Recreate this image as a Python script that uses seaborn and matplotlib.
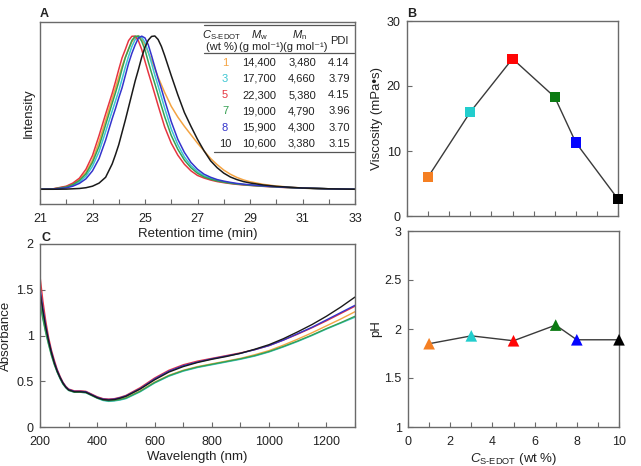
"""
Recreation of a four-panel figure: GPC traces, viscosity, UV-vis spectra and pH
of polymer solutions prepared at different S-EDOT contents.
"""

import matplotlib

matplotlib.use("Agg")

import matplotlib.pyplot as plt
import pandas as pd
import seaborn as sns
from matplotlib.ticker import MultipleLocator


# ---- composition and table values -------------------------------------------
CONC = [1, 3, 5, 7, 8, 10]
CONC_LABELS = ["1", "3", "5", "7", "8", "10"]
MW = ["14,400", "17,700", "22,300", "19,000", "15,900", "10,600"]
MN = ["3,480", "4,660", "5,380", "4,790", "4,300", "3,380"]
PDI = ["4.14", "3.79", "4.15", "3.96", "3.70", "3.15"]

# ---- panel B / D: viscosity and pH ------------------------------------------
VISCOSITY = [6.0, 16.0, 24.2, 18.3, 11.3, 2.6]
PH = [1.85, 1.93, 1.88, 2.04, 1.89, 1.89]

# ---- panel A: GPC traces (normalised intensity) ------------------------------
RET_TIME = [21, 21.5, 22, 22.25, 22.5, 22.75, 23, 23.25, 23.5, 23.75,
            23.875, 24, 24.125, 24.25, 24.375, 24.5, 24.625, 24.75, 24.875, 25,
            25.125, 25.25, 25.375, 25.5, 25.625, 25.75,
            26, 26.25, 26.5, 26.75, 27, 27.25, 27.5, 27.75, 28, 28.25, 28.5,
            28.75, 29, 29.5, 30, 30.5, 31, 32, 33]
GPC_1 = [0.0, 0.002, 0.017, 0.035, 0.062, 0.11, 0.19, 0.31, 0.45, 0.59,
         0.66, 0.73, 0.80, 0.86, 0.915, 0.96, 0.99, 1.0, 0.98, 0.94,
         0.89, 0.84, 0.785, 0.73, 0.68, 0.63,
         0.54, 0.47, 0.41, 0.355, 0.30, 0.25, 0.20, 0.16, 0.125, 0.098, 0.077,
         0.061, 0.049, 0.032, 0.021, 0.014, 0.008, 0.003, 0.0]
GPC_3 = [0.0, 0.001, 0.012, 0.025, 0.047, 0.085, 0.15, 0.245, 0.375, 0.51,
         0.575, 0.64, 0.717, 0.795, 0.866, 0.93, 0.975, 0.997, 0.99, 0.955,
         0.893, 0.82, 0.743, 0.673, 0.60, 0.528,
         0.392, 0.29, 0.21, 0.155, 0.115, 0.087, 0.07, 0.058, 0.049, 0.041,
         0.035, 0.031, 0.027, 0.021, 0.016, 0.011, 0.008, 0.003, 0.0]
GPC_5 = [0.0, 0.003, 0.02, 0.04, 0.072, 0.13, 0.22, 0.35, 0.49, 0.625,
         0.70, 0.78, 0.855, 0.91, 0.968, 0.996, 0.997, 0.966, 0.91, 0.833,
         0.76, 0.69, 0.618, 0.545, 0.475, 0.405,
         0.30, 0.222, 0.163, 0.12, 0.09, 0.073, 0.06, 0.05, 0.043, 0.037,
         0.032, 0.028, 0.025, 0.019, 0.014, 0.01, 0.007, 0.003, 0.0]
GPC_7 = [0.0, 0.002, 0.015, 0.03, 0.057, 0.10, 0.175, 0.28, 0.42, 0.56,
         0.628, 0.70, 0.783, 0.857, 0.912, 0.969, 0.996, 0.996, 0.964, 0.907,
         0.83, 0.757, 0.687, 0.615, 0.542, 0.472,
         0.35, 0.26, 0.19, 0.14, 0.104, 0.08, 0.065, 0.054, 0.046, 0.039,
         0.034, 0.03, 0.026, 0.02, 0.015, 0.011, 0.007, 0.003, 0.0]
GPC_8 = [0.0, 0.001, 0.009, 0.02, 0.038, 0.068, 0.12, 0.20, 0.32, 0.46,
         0.525, 0.595, 0.66, 0.74, 0.82, 0.885, 0.94, 0.985, 0.997, 0.985,
         0.94, 0.87, 0.795, 0.72, 0.653, 0.58,
         0.44, 0.325, 0.24, 0.175, 0.13, 0.098, 0.078, 0.063, 0.053, 0.045,
         0.038, 0.033, 0.029, 0.022, 0.016, 0.012, 0.008, 0.003, 0.0]
GPC_10 = [0.0, 0.0, 0.001, 0.003, 0.005, 0.01, 0.02, 0.04, 0.078, 0.165,
          0.225, 0.29, 0.37, 0.45, 0.535, 0.62, 0.705, 0.78, 0.86, 0.925,
          0.971, 0.995, 0.998, 0.975, 0.93, 0.87,
          0.74, 0.615, 0.50, 0.41, 0.325, 0.25, 0.185, 0.14, 0.105, 0.08,
          0.063, 0.05, 0.041, 0.028, 0.019, 0.013, 0.008, 0.003, 0.0]

# ---- panel C: UV-vis absorbance ------------------------------------------------
WAVELENGTH = [200, 210, 220, 230, 240, 250, 260, 270, 280, 290, 300, 320, 340,
              360, 380, 400, 420, 440, 460, 480, 500, 550, 600, 650, 700, 750,
              800, 850, 900, 950, 1000, 1050, 1100, 1150, 1200, 1250, 1300]
ABS_1 = [1.42, 1.23, 1.07, 0.93, 0.80, 0.70, 0.61, 0.54, 0.48, 0.44, 0.41,
         0.39, 0.39, 0.385, 0.355, 0.325, 0.305, 0.295, 0.295, 0.305, 0.32,
         0.395, 0.49, 0.565, 0.62, 0.66, 0.69, 0.72, 0.75, 0.79, 0.835, 0.895,
         0.96, 1.03, 1.105, 1.18, 1.26]
ABS_3 = [1.38, 1.20, 1.04, 0.91, 0.79, 0.69, 0.60, 0.53, 0.47, 0.43, 0.40,
         0.38, 0.38, 0.375, 0.345, 0.315, 0.29, 0.28, 0.285, 0.295, 0.31,
         0.385, 0.48, 0.555, 0.61, 0.65, 0.68, 0.71, 0.74, 0.775, 0.82, 0.875,
         0.935, 1.0, 1.07, 1.135, 1.20]
ABS_5 = [1.65, 1.38, 1.16, 0.98, 0.84, 0.73, 0.63, 0.555, 0.49, 0.445, 0.415,
         0.395, 0.395, 0.39, 0.36, 0.33, 0.31, 0.305, 0.31, 0.325, 0.345, 0.43,
         0.535, 0.62, 0.68, 0.72, 0.75, 0.78, 0.81, 0.845, 0.89, 0.95, 1.015,
         1.085, 1.16, 1.24, 1.32]
ABS_7 = [1.35, 1.18, 1.03, 0.90, 0.78, 0.68, 0.60, 0.53, 0.47, 0.43, 0.40,
         0.38, 0.38, 0.375, 0.345, 0.315, 0.295, 0.285, 0.29, 0.30, 0.315,
         0.39, 0.485, 0.56, 0.615, 0.655, 0.685, 0.715, 0.745, 0.78, 0.825,
         0.88, 0.94, 1.005, 1.075, 1.14, 1.21]
ABS_8 = [1.52, 1.30, 1.11, 0.95, 0.82, 0.71, 0.62, 0.545, 0.485, 0.44, 0.41,
         0.39, 0.39, 0.385, 0.355, 0.325, 0.305, 0.30, 0.305, 0.32, 0.34, 0.42,
         0.525, 0.61, 0.67, 0.71, 0.745, 0.775, 0.805, 0.845, 0.89, 0.95, 1.02,
         1.09, 1.17, 1.25, 1.33]
ABS_10 = [1.48, 1.27, 1.09, 0.94, 0.81, 0.70, 0.61, 0.54, 0.48, 0.435, 0.405,
          0.385, 0.385, 0.38, 0.35, 0.32, 0.30, 0.295, 0.30, 0.315, 0.335,
          0.415, 0.515, 0.60, 0.66, 0.705, 0.74, 0.77, 0.805, 0.85, 0.90, 0.965,
          1.04, 1.12, 1.21, 1.31, 1.42]

LINE_COLORS = ["#F4A443", "#3CC6D2", "#E63540", "#35A052", "#3434CC", "#1A1A1A"]
MARKER_COLORS = ["#F57F22", "#22CDCD", "#FF0505", "#0B7A12", "#0505FF", "#000000"]
SPINE_COLOR = "#6A6A6A"

W, H = 641, 466


def long_frame(x, series, xname, yname):
    frames = []
    for label, ys in zip(CONC_LABELS, series):
        frames.append(pd.DataFrame({xname: x, yname: ys, "conc": label}))
    return pd.concat(frames, ignore_index=True)


def px_axes(fig, left, top, right, bottom):
    return fig.add_axes([left / W, 1 - bottom / H, (right - left) / W, (bottom - top) / H])


def style_axes(ax):
    for sp in ax.spines.values():
        sp.set_color(SPINE_COLOR)
        sp.set_linewidth(1.0)
    ax.tick_params(which="both", direction="in", length=3.5, width=0.8,
                   color=SPINE_COLOR, labelsize=9, labelcolor="#222222")
    ax.tick_params(axis="x", which="both", pad=6.5)
    ax.tick_params(axis="y", which="both", pad=4.5)


def main() -> None:
    sns.set_theme(style="ticks")
    plt.rcParams["font.family"] = ["Liberation Sans", "DejaVu Sans"]
    plt.rcParams["mathtext.fontset"] = "custom"
    plt.rcParams["mathtext.rm"] = "Liberation Sans"
    plt.rcParams["mathtext.it"] = "Liberation Sans:italic"
    plt.rcParams["text.color"] = "#222222"
    plt.rcParams["axes.labelcolor"] = "#222222"

    palette = dict(zip(CONC_LABELS, LINE_COLORS))
    fig = plt.figure(figsize=(W / 100, H / 100), dpi=100)

    # ---- A: GPC ----
    ax_a = px_axes(fig, 40, 22, 355, 204)
    gpc = long_frame(RET_TIME, [GPC_1, GPC_3, GPC_5, GPC_7, GPC_8, GPC_10],
                     "time", "intensity")
    sns.lineplot(data=gpc, x="time", y="intensity", hue="conc", palette=palette,
                 estimator=None, sort=False, legend=False, linewidth=1.1, ax=ax_a)
    ax_a.set_xlim(21, 33)
    ax_a.set_ylim(-0.096, 1.089)
    ax_a.set_yticks([])
    ax_a.set_xticks(range(21, 34, 2))
    ax_a.xaxis.set_minor_locator(MultipleLocator(1))
    ax_a.set_xlabel("Retention time (min)", fontsize=9.5, labelpad=2)
    ax_a.set_ylabel("Intensity", fontsize=9.5, labelpad=4)
    style_axes(ax_a)

    # table inside panel A (pixel positions converted to axes fractions)
    def fx(px):
        return (px - 40) / 315

    def fy(py):
        return (204 - py) / 182

    tkw = dict(transform=ax_a.transAxes, ha="center", va="center", fontsize=8)
    ax_a.text(fx(222), fy(35), r"$C_{\mathrm{S‐EDOT}}$", **tkw)
    ax_a.text(fx(259), fy(35), r"$M_{\mathrm{w}}$", **tkw)
    ax_a.text(fx(300), fy(35), r"$M_{\mathrm{n}}$", **tkw)
    ax_a.text(fx(339), fy(41), "PDI", **tkw)
    ax_a.text(fx(222), fy(47.5), "(wt %)", **tkw)
    ax_a.text(fx(261), fy(47.5), "(g mol⁻¹)", **tkw)
    ax_a.text(fx(305), fy(47.5), "(g mol⁻¹)", **tkw)
    for i, (lab, mw, mn, pdi) in enumerate(zip(CONC_LABELS, MW, MN, PDI)):
        y = fy(62.7 + 16.25 * i)
        ax_a.text(fx(225), y, lab, color=LINE_COLORS[i] if i < 5 else "#222222", **tkw)
        ax_a.text(fx(259), y, mw, **tkw)
        ax_a.text(fx(302), y, mn, **tkw)
        ax_a.text(fx(339), y, pdi, **tkw)
    lkw = dict(transform=ax_a.transAxes, color="#555555", linewidth=0.9, clip_on=False)
    ax_a.plot([fx(204), fx(354)], [fy(25), fy(25)], **lkw)
    ax_a.plot([fx(204), fx(354)], [fy(53), fy(53)], **lkw)
    ax_a.plot([fx(214), fx(354)], [fy(152), fy(152)], **lkw)

    # ---- B: viscosity ----
    ax_b = px_axes(fig, 407, 21, 618, 216)
    visc = pd.DataFrame({"conc": CONC, "viscosity": VISCOSITY, "label": CONC_LABELS})
    sns.lineplot(data=visc, x="conc", y="viscosity", color="#3A3A3A",
                 linewidth=1.0, ax=ax_b)
    sns.scatterplot(data=visc, x="conc", y="viscosity", hue="label",
                    palette=dict(zip(CONC_LABELS, MARKER_COLORS)), marker="s",
                    s=55, edgecolor="none", legend=False, zorder=3,
                    clip_on=False, ax=ax_b)
    ax_b.set_xlim(0, 10)
    ax_b.set_ylim(0, 30)
    ax_b.set_yticks([0, 10, 20, 30])
    ax_b.set_xticks(range(0, 11, 2))
    ax_b.xaxis.set_minor_locator(MultipleLocator(1))
    ax_b.set_xticklabels([])
    ax_b.set_xlabel("")
    ax_b.set_ylabel("Viscosity (mPa•s)", fontsize=9.5, labelpad=3)
    style_axes(ax_b)

    # ---- D: pH ----
    ax_d = px_axes(fig, 408, 231, 619, 427)
    ph = pd.DataFrame({"conc": CONC, "ph": PH, "label": CONC_LABELS})
    sns.lineplot(data=ph, x="conc", y="ph", color="#3A3A3A", linewidth=1.0, ax=ax_d)
    sns.scatterplot(data=ph, x="conc", y="ph", hue="label",
                    palette=dict(zip(CONC_LABELS, MARKER_COLORS)), marker="^",
                    s=70, edgecolor="none", legend=False, zorder=3,
                    clip_on=False, ax=ax_d)
    ax_d.set_xlim(0, 10)
    ax_d.set_ylim(1, 3)
    ax_d.set_yticks([1, 1.5, 2, 2.5, 3])
    ax_d.set_yticklabels(["1", "1.5", "2", "2.5", "3"])
    ax_d.set_xticks(range(0, 11, 2))
    ax_d.xaxis.set_minor_locator(MultipleLocator(1))
    ax_d.set_xlabel(r"$C_{\mathrm{S‐EDOT}}$ (wt %)", fontsize=9.5, labelpad=2)
    ax_d.set_ylabel("pH", fontsize=9.5, labelpad=2)
    style_axes(ax_d)

    # ---- C: UV-vis ----
    ax_c = px_axes(fig, 40, 244, 355, 427)
    uv = long_frame(WAVELENGTH, [ABS_1, ABS_3, ABS_5, ABS_7, ABS_8, ABS_10],
                    "wavelength", "absorbance")
    sns.lineplot(data=uv, x="wavelength", y="absorbance", hue="conc",
                 palette=palette, estimator=None, sort=False, legend=False,
                 linewidth=1.0, ax=ax_c)
    ax_c.set_xlim(200, 1300)
    ax_c.set_ylim(0, 2)
    ax_c.set_xticks(range(200, 1201, 200))
    ax_c.xaxis.set_minor_locator(MultipleLocator(100))
    ax_c.set_yticks([0, 0.5, 1, 1.5, 2])
    ax_c.set_yticklabels(["0", "0.5", "1", "1.5", "2"])
    ax_c.set_xlabel("Wavelength (nm)", fontsize=9.5, labelpad=2)
    ax_c.set_ylabel("Absorbance", fontsize=9.5, labelpad=3)
    style_axes(ax_c)

    # panel letters
    fig.text(40 / W, 1 - 17 / H, "A", fontsize=9, fontweight="bold")
    fig.text(407 / W, 1 - 17 / H, "B", fontsize=9, fontweight="bold")
    fig.text(41 / W, 1 - 241 / H, "C", fontsize=9, fontweight="bold")

    fig.savefig("out.png", dpi=100)
    plt.close(fig)


if __name__ == "__main__":
    main()
